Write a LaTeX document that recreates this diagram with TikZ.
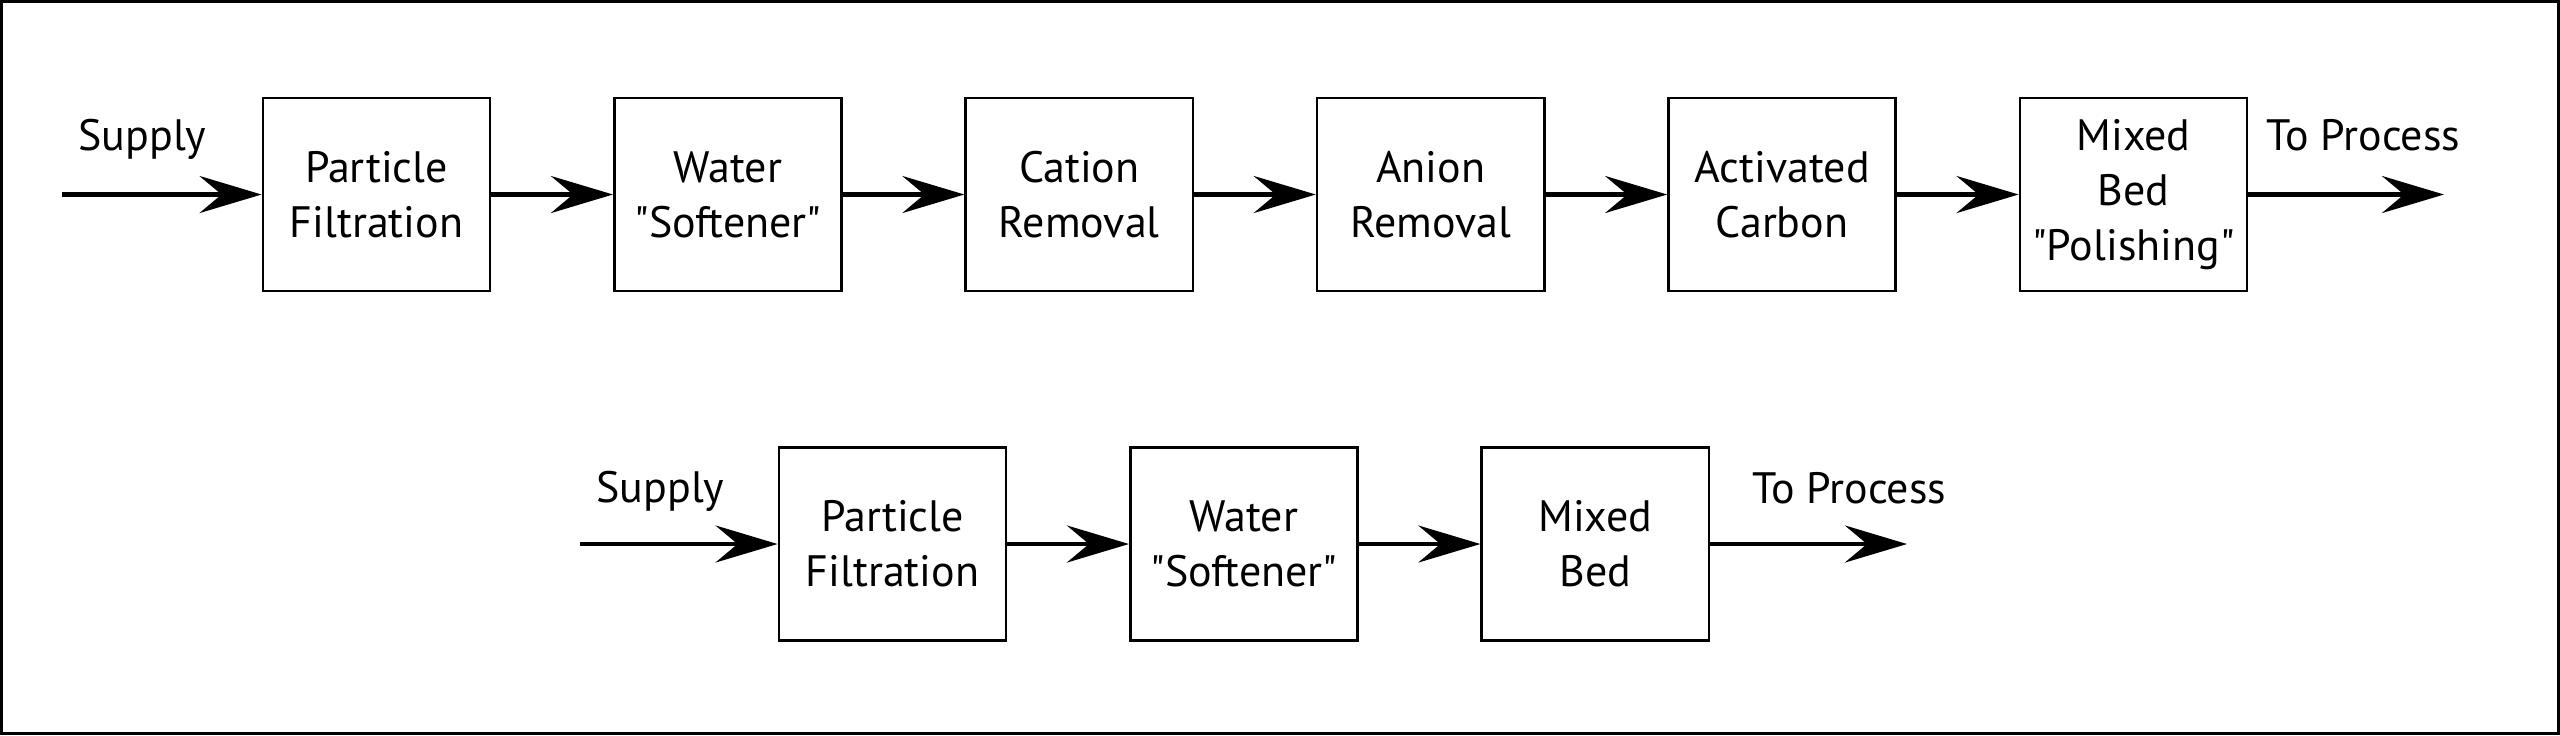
\documentclass[tikz,border=0pt]{standalone}
\usepackage{fontspec}
\setmainfont{PT Sans}
\usetikzlibrary{arrows.meta}
\newcommand{\qq}[1]{\textquotedbl#1\textquotedbl}

\begin{document}
\begin{tikzpicture}[x=0.01cm, y=-0.01cm,
	font=\fontsize{12.5}{15.6}\selectfont,
	stage/.style={draw, line width=0.027cm, minimum width=2.27cm, minimum height=1.93cm, inner sep=0pt, align=center},
	flow/.style={line width=0.047cm, -{Stealth[length=0.62cm, width=0.37cm, inset=0.22cm]}}
	]
	\useasboundingbox (0,0) rectangle (2560,735);
	\draw[line width=0.03cm] (1.5,1.5) rectangle (2558.5,733.5);
	
	% full train
	\node[stage] (pf1) at (376.5,194.5) {Particle\\Filtration};
	\node[stage] (ws1) at (727.9,194.5) {Water\\\qq{Softener}};
	\node[stage] (cr1) at (1079.3,194.5) {Cation\\Removal};
	\node[stage] (ar1) at (1430.7,194.5) {Anion\\Removal};
	\node[stage] (ac1) at (1782.1,194.5) {Activated\\Carbon};
	\node[stage] (mb1) at (2133.5,194.5) {Mixed\\Bed\\\qq{Polishing}};
	\coordinate (in1) at (62,194.5);
	\coordinate (out1) at (2444,194.5);
	\node[anchor=base west] (sup1) at (66,150) {Supply};
	\node[anchor=base west] (proc1) at (2254,150) {To Process};
	
	\draw[flow] (in1) -- (pf1.west);
	\draw[flow] (pf1) -- (ws1);
	\draw[flow] (ws1) -- (cr1);
	\draw[flow] (cr1) -- (ar1);
	\draw[flow] (ar1) -- (ac1);
	\draw[flow] (ac1) -- (mb1);
	\draw[flow] (mb1.east) -- (out1);
	
	% short train
	\node[stage] (pf2) at (892.5,544) {Particle\\Filtration};
	\node[stage] (ws2) at (1243.9,544) {Water\\\qq{Softener}};
	\node[stage] (mb2) at (1595.3,544) {Mixed\\Bed};
	\coordinate (in2) at (580,544);
	\coordinate (out2) at (1907,544);
	\node[anchor=base west] (sup2) at (584,502) {Supply};
	\node[anchor=base west] (proc2) at (1740,503) {To Process};
	
	\draw[flow] (in2) -- (pf2.west);
	\draw[flow] (pf2) -- (ws2);
	\draw[flow] (ws2) -- (mb2);
	\draw[flow] (mb2.east) -- (out2);
\end{tikzpicture}
\end{document}
